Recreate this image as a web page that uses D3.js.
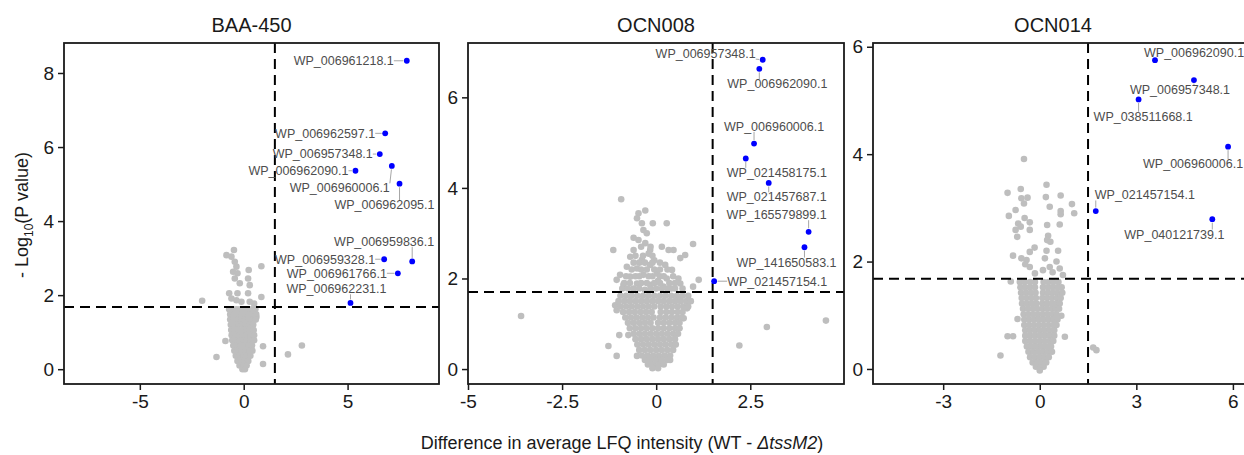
<!DOCTYPE html>
<html>
<head>
<meta charset="utf-8">
<script src="https://cdn.jsdelivr.net/npm/d3@7"></script>
<style>
  body { margin: 0; background: #fff; }
  svg { font-family: "Liberation Sans", Arial, sans-serif; }
</style>
</head>
<body>
<svg width="1244" height="455"></svg>
<script>
// ---- data ----
const titles = ['BAA-450', 'OCN008', 'OCN014'];
const xTicks = [[-5, 0, 5], [-5, -2.5, 0, 2.5], [-3, 0, 3, 6]];
const yTicks = [[0, 2, 4, 6, 8], [0, 2, 4, 6], [0, 2, 4, 6]];
const fcCut = 1.5;
const pCut = [1.68, 1.70, 1.68];

// dense bulk of non-significant proteins, as rows [y, [x...]]
const denseBAA = [
  [1.62, [-0.7, -0.52, -0.34, -0.16, 0.02, 0.2, 0.38, 0.56]],
  [1.48, [-0.65, -0.47, -0.29, -0.11, 0.07, 0.25, 0.43, 0.6]],
  [1.34, [-0.65, -0.47, -0.29, -0.11, 0.07, 0.25, 0.43, 0.58]],
  [1.2, [-0.62, -0.44, -0.26, -0.08, 0.1, 0.28, 0.46]],
  [1.06, [-0.6, -0.42, -0.24, -0.06, 0.12, 0.3, 0.48]],
  [0.92, [-0.58, -0.4, -0.22, -0.04, 0.14, 0.32, 0.5]],
  [0.78, [-0.55, -0.37, -0.19, -0.01, 0.17, 0.35, 0.5]],
  [0.64, [-0.5, -0.32, -0.14, 0.04, 0.22, 0.4]],
  [0.5, [-0.45, -0.27, -0.09, 0.09, 0.27, 0.42]],
  [0.36, [-0.38, -0.2, -0.02, 0.16, 0.32]],
  [0.22, [-0.3, -0.12, 0.06, 0.22]],
  [0.1, [-0.2, -0.02, 0.14]],
  [0.0, [-0.06, 0.06]]
];
const scatterBAA = [
  [-0.47, 3.22], [-0.83, 3.08], [-0.59, 3.04], [-0.43, 2.9], [-0.35, 2.77], [-0.51, 2.63],
  [-0.3, 2.59], [-0.43, 2.45], [0.24, 2.68], [0.21, 2.45], [-0.19, 2.32], [0.85, 2.78],
  [0.29, 2.27], [-0.7, 2.05], [-0.3, 2.05], [0.21, 2.05], [0.85, 1.95], [-0.59, 1.91],
  [-0.35, 1.86], [-0.11, 1.82], [0.29, 1.82], [0.5, 1.77], [-2.0, 1.85], [-0.88, 0.76],
  [-1.31, 0.33], [0.93, 0.62], [0.93, 0.14], [2.13, 0.4], [2.8, 0.64], [0.61, 1.41],
  [0.5, 1.59]
];

const denseOCN008 = [
  [2.7, [-0.4, -0.15]],
  [2.5, [-0.55, -0.35, -0.1]],
  [2.35, [-0.6, -0.45, -0.3, -0.1, 0.1]],
  [2.2, [-0.65, -0.4, -0.25, -0.05, 0.1, 0.3]],
  [2.05, [-0.8, -0.55, -0.45, -0.2, -0.1, 0.1, 0.2, 0.45]],
  [1.9, [-0.85, -0.7, -0.4, -0.25, -0.05, 0.1, 0.35, 0.5]],
  [1.78, [-0.9, -0.75, -0.6, -0.45, -0.15, 0, 0.15, 0.3, 0.5, 0.7]],
  [1.62, [-0.95, -0.8, -0.65, -0.5, -0.35, -0.2, -0.05, 0.1, 0.25, 0.4, 0.55, 0.7, 0.85]],
  [1.5, [-1.0, -0.85, -0.7, -0.55, -0.4, -0.25, -0.1, 0.05, 0.2, 0.35, 0.5, 0.65, 0.8, 0.92]],
  [1.38, [-0.95, -0.8, -0.65, -0.5, -0.35, -0.2, -0.05, 0.12, 0.27, 0.42, 0.57, 0.72, 0.85]],
  [1.26, [-0.88, -0.72, -0.57, -0.42, -0.27, -0.12, 0.12, 0.27, 0.42, 0.57, 0.7]],
  [1.14, [-0.82, -0.67, -0.52, -0.37, -0.22, -0.07, 0.1, 0.25, 0.4, 0.55, 0.68]],
  [1.02, [-0.75, -0.6, -0.45, -0.3, -0.15, 0.05, 0.2, 0.35, 0.5, 0.62]],
  [0.9, [-0.7, -0.55, -0.4, -0.25, -0.1, 0.05, 0.2, 0.35, 0.5, 0.62]],
  [0.78, [-0.6, -0.45, -0.3, -0.15, 0, 0.15, 0.3, 0.45, 0.58]],
  [0.66, [-0.55, -0.4, -0.25, -0.1, 0.05, 0.2, 0.35, 0.5]],
  [0.54, [-0.5, -0.35, -0.2, -0.05, 0.1, 0.25, 0.4, 0.52]],
  [0.42, [-0.45, -0.3, -0.15, 0, 0.15, 0.3, 0.45]],
  [0.3, [-0.38, -0.23, -0.08, 0.07, 0.22, 0.37]],
  [0.2, [-0.3, -0.15, 0, 0.15, 0.3]],
  [0.1, [-0.22, -0.07, 0.08, 0.2]],
  [0.02, [-0.1, 0.05]]
];
const scatterOCN008 = [
  [-0.93, 3.75], [-0.47, 3.44], [-0.29, 3.5], [-0.51, 3.33], [-0.38, 3.22], [-0.09, 3.22],
  [0.28, 3.22], [-0.34, 3.07], [-0.25, 3.0], [-0.47, 2.85], [-0.29, 2.78], [-1.14, 2.63],
  [-0.6, 2.63], [-0.16, 2.63], [0.15, 2.7], [0.33, 2.63], [0.46, 2.63], [0.98, 2.76],
  [0.77, 2.52], [0.64, 2.45], [-0.69, 2.48], [-0.38, 2.41], [-0.78, 2.26], [-0.51, 2.22],
  [-0.16, 2.3], [0.24, 2.3], [0.42, 2.19], [-0.96, 2.08], [-1.05, 1.97], [-0.69, 2.04],
  [-0.34, 2.08], [0.02, 2.11], [0.28, 2.0], [0.59, 2.0], [0.64, 1.89], [1.13, 1.97],
  [0.98, 1.82], [-0.87, 1.86], [-0.51, 1.89], [-0.16, 1.86], [0.19, 1.82],
  [-0.6, 2.9], [-0.2, 2.55], [-0.05, 2.4], [0.05, 1.95], [-0.3, 1.75], [0.4, 1.78],
  [-3.59, 1.17], [-1.09, 1.41], [-1.05, 1.3], [-0.98, 0.75], [-0.74, 0.75], [-1.27, 0.51],
  [-1.05, 0.29], [-0.51, 0.29], [0.37, 0.2], [0.82, 1.34], [0.73, 1.12], [0.64, 1.52],
  [2.21, 0.52], [2.94, 0.93], [4.51, 1.07]
];

const denseOCN014 = [
  [1.62, [-0.62, -0.47, -0.3, -0.15, 0.12, 0.27, 0.42, 0.58]],
  [1.52, [-0.6, -0.45, -0.3, -0.15, 0.1, 0.25, 0.4, 0.55, 0.68]],
  [1.42, [-0.58, -0.43, -0.28, -0.13, 0.1, 0.25, 0.4, 0.55, 0.7]],
  [1.32, [-0.56, -0.41, -0.26, -0.12, 0.08, 0.23, 0.38, 0.53, 0.65]],
  [1.22, [-0.55, -0.4, -0.25, -0.1, 0.08, 0.23, 0.38, 0.52, 0.62]],
  [1.12, [-0.52, -0.37, -0.22, -0.08, 0.08, 0.22, 0.37, 0.5, 0.6]],
  [1.02, [-0.5, -0.35, -0.2, -0.05, 0.1, 0.25, 0.4, 0.52]],
  [0.92, [-0.48, -0.33, -0.18, -0.03, 0.12, 0.27, 0.42, 0.55]],
  [0.82, [-0.48, -0.33, -0.18, -0.03, 0.12, 0.27, 0.42, 0.52]],
  [0.72, [-0.45, -0.3, -0.15, 0, 0.15, 0.3, 0.45]],
  [0.62, [-0.45, -0.3, -0.15, 0, 0.15, 0.3, 0.45]],
  [0.52, [-0.45, -0.3, -0.15, 0, 0.15, 0.3, 0.42]],
  [0.42, [-0.4, -0.25, -0.1, 0.05, 0.2, 0.35]],
  [0.32, [-0.35, -0.2, -0.05, 0.1, 0.25, 0.38]],
  [0.22, [-0.3, -0.15, 0, 0.15, 0.28]],
  [0.12, [-0.22, -0.08, 0.06, 0.2]],
  [0.04, [-0.12, 0.02, 0.12]],
  [-0.03, [0]]
];
const scatterOCN014 = [
  [-0.49, 3.91], [-1.0, 3.28], [-0.59, 3.35], [-0.57, 3.18], [-0.38, 3.19], [-0.49, 3.08],
  [0.21, 3.43], [0.19, 3.2], [0.65, 3.23], [0.31, 3.02], [1.0, 3.07], [1.07, 2.9],
  [0.65, 2.94], [0.65, 2.88], [-0.75, 2.96], [-0.96, 2.85], [-0.47, 2.81], [-0.67, 2.71],
  [-0.31, 2.73], [-0.59, 2.65], [-0.75, 2.59], [-0.31, 2.59], [-0.7, 2.46], [0.23, 2.68],
  [0.62, 2.69], [0.26, 2.48], [0.23, 2.4], [0.33, 2.37], [-0.16, 2.26], [-0.83, 2.11],
  [-0.31, 2.18], [0.21, 2.2], [0.57, 2.2], [-0.57, 2.06], [-0.41, 2.03], [0.16, 2.06],
  [0.52, 2.0], [-0.31, 1.9], [0.31, 1.9], [0.62, 1.87], [0.1, 1.84], [0.72, 1.75],
  [-0.45, 1.95], [-0.15, 1.78], [0.4, 1.8], [-0.9, 1.63],
  [-0.69, 0.93], [-1.0, 0.61], [-0.83, 0.61], [-1.22, 0.25], [0.78, 0.6], [0.67, 0.99],
  [1.66, 0.4], [1.76, 0.35]
];

// significant hits
const hitsBAA = [
  ['WP_006961218.1', 7.85, 8.33], ['WP_006962597.1', 6.81, 6.37], ['WP_006957348.1', 6.55, 5.81],
  ['WP_006962090.1', 5.38, 5.36], ['WP_006960006.1', 7.13, 5.49], ['WP_006962095.1', 7.5, 5.01],
  ['WP_006959836.1', 8.11, 2.91], ['WP_006959328.1', 6.76, 2.97], ['WP_006961766.1', 7.42, 2.59],
  ['WP_006962231.1', 5.14, 1.79]
];
const hitsOCN008 = [
  ['WP_006957348.1', 2.83, 6.83], ['WP_006962090.1', 2.74, 6.63], ['WP_006960006.1', 2.6, 4.98],
  ['WP_021458175.1', 2.38, 4.65], ['WP_021457687.1', 2.99, 4.11], ['WP_165579899.1', 4.05, 3.03],
  ['WP_141650583.1', 3.94, 2.69], ['WP_021457154.1', 1.54, 1.94]
];
const hitsOCN014 = [
  ['WP_006962090.1', 3.58, 5.75], ['WP_006957348.1', 4.79, 5.38], ['WP_038511668.1', 3.07, 5.02],
  ['WP_006960006.1', 5.85, 4.14], ['WP_021457154.1', 1.74, 2.94], ['WP_040121739.1', 5.36, 2.79]
];

// ---- layout ----
// label offsets in px from the point: [dx, dy, anchor]
const labelPos = [
  {
    'WP_006961218.1': [-13, 0, 'end'], 'WP_006962597.1': [-10, 0, 'end'],
    'WP_006957348.1': [-7, 0, 'end'], 'WP_006962090.1': [-7, 0, 'end'],
    'WP_006960006.1': [-2, 22, 'end'], 'WP_006962095.1': [35, 21, 'end'],
    'WP_006959836.1': [22, -20, 'end'], 'WP_006959328.1': [-9, 0, 'end'],
    'WP_006961766.1': [-11, 0, 'end'], 'WP_006962231.1': [36, -14, 'end']
  },
  {
    'WP_006957348.1': [-7, -6, 'end'], 'WP_006962090.1': [-32, 15, 'start'],
    'WP_006960006.1': [-30, -17, 'start'], 'WP_021458175.1': [-19, 14, 'start'],
    'WP_021457687.1': [-42, 14, 'start'], 'WP_165579899.1': [-82, -17, 'start'],
    'WP_141650583.1': [-68, 15, 'start'], 'WP_021457154.1': [13, 0, 'start']
  },
  {
    'WP_006962090.1': [-11, -8, 'start'], 'WP_006957348.1': [-64, 10, 'start'],
    'WP_038511668.1': [-45, 17, 'start'], 'WP_006960006.1': [-85, 17, 'start'],
    'WP_021457154.1': [-1, -16, 'start'], 'WP_040121739.1': [-88, 15, 'start']
  }
];

const boxes = [
  { left: 64, right: 439, xDom: [-8.65, 9.4], yDom: [-0.4, 8.81] },
  { left: 468, right: 844, xDom: [-5, 4.99], yDom: [-0.33, 7.2] },
  { left: 873, right: 1249, xDom: [-5.18, 6.5], yDom: [-0.28, 6.07] }
];
const plotTop = 43, plotBottom = 384;

const denseAll = [denseBAA, denseOCN008, denseOCN014];
const scatterAll = [scatterBAA, scatterOCN008, scatterOCN014];
const hitsAll = [hitsBAA, hitsOCN008, hitsOCN014];

const svg = d3.select('svg');
const plain = d => String(d);   // hyphen minus, no trailing zeros

boxes.forEach((b, i) => {
  const x = d3.scaleLinear().domain(b.xDom).range([b.left, b.right]);
  const y = d3.scaleLinear().domain(b.yDom).range([plotBottom, plotTop]);
  const g = svg.append('g');

  const gray = scatterAll[i].concat(denseAll[i].flatMap(([yy, xs]) => xs.map(xx => [xx, yy])));

  g.selectAll('circle.ns')
    .data(gray)
    .join('circle')
    .attr('class', 'ns')
    .attr('cx', d => x(d[0]))
    .attr('cy', d => y(d[1]))
    .attr('r', 3.3)
    .attr('fill', '#bebebe');

  // threshold lines
  g.append('line')
    .attr('x1', x(fcCut)).attr('x2', x(fcCut))
    .attr('y1', plotTop).attr('y2', plotBottom)
    .attr('stroke', '#000').attr('stroke-width', 2).attr('stroke-dasharray', '10,6');
  g.append('line')
    .attr('x1', b.left).attr('x2', b.right)
    .attr('y1', y(pCut[i])).attr('y2', y(pCut[i]))
    .attr('stroke', '#000').attr('stroke-width', 2).attr('stroke-dasharray', '10,6');

  // labels first, then segments, then the blue points on top
  const lab = g.selectAll('text.lab')
    .data(hitsAll[i])
    .join('text')
    .attr('class', 'lab')
    .attr('x', d => x(d[1]) + labelPos[i][d[0]][0])
    .attr('y', d => y(d[2]) + labelPos[i][d[0]][1])
    .attr('dy', '0.35em')
    .attr('text-anchor', d => labelPos[i][d[0]][2])
    .attr('font-size', 12.5)
    .attr('fill', '#4d4d4d')
    .text(d => d[0]);

  lab.each(function (d) {
    const bb = this.getBBox();
    const px = x(d[1]), py = y(d[2]);
    const nx = Math.max(bb.x, Math.min(px, bb.x + bb.width));
    const ny = Math.max(bb.y + 2, Math.min(py, bb.y + bb.height - 2));
    const dist = Math.hypot(nx - px, ny - py);
    if (dist > 4) {
      const k = 3.5 / dist;
      g.insert('line', 'text.lab')
        .attr('x1', px + (nx - px) * k).attr('y1', py + (ny - py) * k)
        .attr('x2', nx).attr('y2', ny)
        .attr('stroke', '#7f7f7f').attr('stroke-width', 0.7);
    }
  });

  g.selectAll('circle.hit')
    .data(hitsAll[i])
    .join('circle')
    .attr('class', 'hit')
    .attr('cx', d => x(d[1]))
    .attr('cy', d => y(d[2]))
    .attr('r', 2.9)
    .attr('fill', '#0000ff');

  // frame
  g.append('rect')
    .attr('x', b.left).attr('y', plotTop)
    .attr('width', b.right - b.left).attr('height', plotBottom - plotTop)
    .attr('fill', 'none').attr('stroke', '#1a1a1a').attr('stroke-width', 1.8);

  const ax = g.append('g')
    .attr('transform', `translate(0,${plotBottom})`)
    .call(d3.axisBottom(x).tickValues(xTicks[i]).tickFormat(plain).tickSize(6).tickPadding(5));
  const ay = g.append('g')
    .attr('transform', `translate(${b.left},0)`)
    .call(d3.axisLeft(y).tickValues(yTicks[i]).tickFormat(plain).tickSize(6).tickPadding(4));
  [ax, ay].forEach(a => {
    a.select('.domain').remove();
    a.selectAll('line').attr('stroke', '#1a1a1a').attr('stroke-width', 1.5);
    a.selectAll('text').attr('font-size', 19).attr('fill', '#1a1a1a')
      .attr('font-family', '"Liberation Sans", Arial, sans-serif');
  });

  svg.append('text')
    .attr('x', (b.left + b.right) / 2 - (i === 2 ? 8 : 0))
    .attr('y', 32)
    .attr('text-anchor', 'middle')
    .attr('font-size', 20)
    .attr('fill', '#1a1a1a')
    .text(titles[i]);
});

// axis titles
const yl = svg.append('text')
  .attr('transform', 'translate(28,215) rotate(-90)')
  .attr('text-anchor', 'middle')
  .attr('font-size', 18)
  .attr('fill', '#1a1a1a');
yl.append('tspan').text('- Log');
yl.append('tspan').attr('font-size', 12).attr('dy', 5).text('10');
yl.append('tspan').attr('dy', -5).text('(P value)');

const xl = svg.append('text')
  .attr('x', 622)
  .attr('y', 449)
  .attr('text-anchor', 'middle')
  .attr('font-size', 18)
  .attr('fill', '#1a1a1a');
xl.append('tspan').text('Difference in average LFQ intensity (WT - ');
xl.append('tspan').attr('font-style', 'italic').text('\u0394tssM2');
xl.append('tspan').text(')');
</script>
</body>
</html>
